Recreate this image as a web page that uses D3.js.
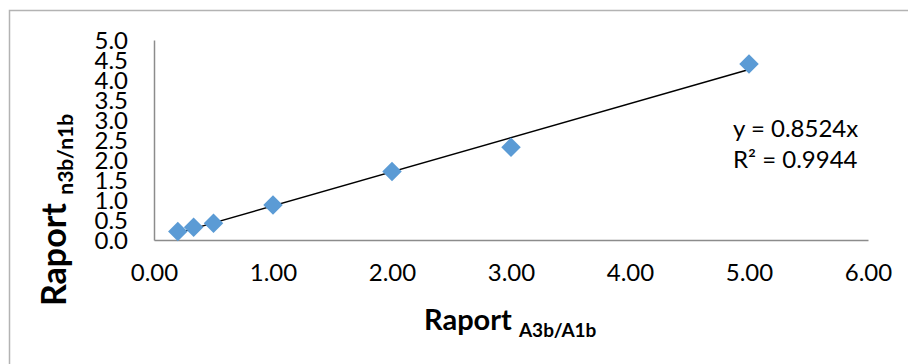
<!DOCTYPE html>
<html>
<head>
<meta charset="utf-8">
<script src="https://cdn.jsdelivr.net/npm/d3@7"></script>
<style>
  html, body { margin: 0; padding: 0; background: #fff; }
  svg { display: block; }
  text { font-family: Lato, "Open Sans", sans-serif; fill: #000; }
</style>
</head>
<body>
<svg id="chart" width="908" height="364"></svg>
<script>
// Ratio pairs: A3b/A1b (x) against n3b/n1b (y)
const xValues = [0.2, 0.333, 0.5, 1.0, 2.0, 3.0, 5.0];
const yValues = [0.21, 0.32, 0.42, 0.875, 1.71, 2.32, 4.4];

// Linear trendline forced through the origin
const trendSlope = 0.8524;
const trendR2 = 0.9944;

const xTicks = [0, 1, 2, 3, 4, 5, 6];
const yTicks = [0, 0.5, 1, 1.5, 2, 2.5, 3, 3.5, 4, 4.5, 5];

const svg = d3.select("#chart");
const W = 908, H = 364;

// chart frame
svg.append("rect")
  .attr("x", 9.5).attr("y", 10.5)
  .attr("width", W + 10).attr("height", H + 10)
  .attr("fill", "#fff")
  .attr("stroke", "#b3b3b3").attr("stroke-width", 1.5);

const plot = { left: 154, right: 868, top: 40, bottom: 240 };

const x = d3.scaleLinear().domain([0, 6]).range([plot.left, plot.right]);
const y = d3.scaleLinear().domain([0, 5]).range([plot.bottom, plot.top]);

// x axis
const xAxis = svg.append("g")
  .attr("transform", `translate(0,${plot.bottom})`)
  .call(d3.axisBottom(x).tickValues(xTicks).tickFormat(d3.format(".2f")).tickSize(0).tickPadding(24));
xAxis.select(".domain").attr("stroke", "#8c8c8c").attr("stroke-width", 1.5);
xAxis.selectAll("text").attr("font-size", 24).style("font-family", "Lato, 'Open Sans', sans-serif").attr("fill", "#000");

// y axis
const yAxis = svg.append("g")
  .attr("transform", `translate(${plot.left},0)`)
  .call(d3.axisLeft(y).tickValues(yTicks).tickFormat(d3.format(".1f")).tickSize(0).tickPadding(26));
yAxis.select(".domain").attr("stroke", "#8c8c8c").attr("stroke-width", 1.5);
yAxis.selectAll("text").attr("font-size", 24).attr("dy", "0.36em").style("font-family", "Lato, 'Open Sans', sans-serif").attr("fill", "#000");

// trendline across the data range
const xMin = d3.min(xValues), xMax = d3.max(xValues);
svg.append("line")
  .attr("x1", x(xMin)).attr("y1", y(trendSlope * xMin))
  .attr("x2", x(xMax)).attr("y2", y(trendSlope * xMax))
  .attr("stroke", "#000").attr("stroke-width", 1.4);

// diamond markers
const diamond = d3.symbol().type(d3.symbolSquare).size(190);
svg.append("g").selectAll("path")
  .data(xValues.map((v, i) => [v, yValues[i]]))
  .join("path")
  .attr("d", diamond)
  .attr("transform", d => `translate(${x(d[0])},${y(d[1])}) rotate(45)`)
  .attr("fill", "#5b9bd5");

// trendline equation
svg.append("text").attr("x", 733).attr("y", 137).attr("font-size", 24)
  .text(`y = ${trendSlope.toFixed(4)}x`);
svg.append("text").attr("x", 733).attr("y", 168).attr("font-size", 24)
  .text(`R² = ${trendR2.toFixed(4)}`);

// axis titles
const xt = svg.append("text")
  .attr("x", 424).attr("y", 330)
  .attr("font-weight", "bold").attr("font-size", 29);
xt.append("tspan").text("Raport ");
xt.append("tspan").attr("font-size", 19).attr("dy", 7).text("A3b/A1b");

const yt = svg.append("text")
  .attr("transform", "translate(66,306) rotate(-90)")
  .attr("font-weight", "bold").attr("font-size", 34);
yt.append("tspan").text("Raport ");
yt.append("tspan").attr("font-size", 21).attr("dy", 7).text("n3b/n1b");
</script>
</body>
</html>
